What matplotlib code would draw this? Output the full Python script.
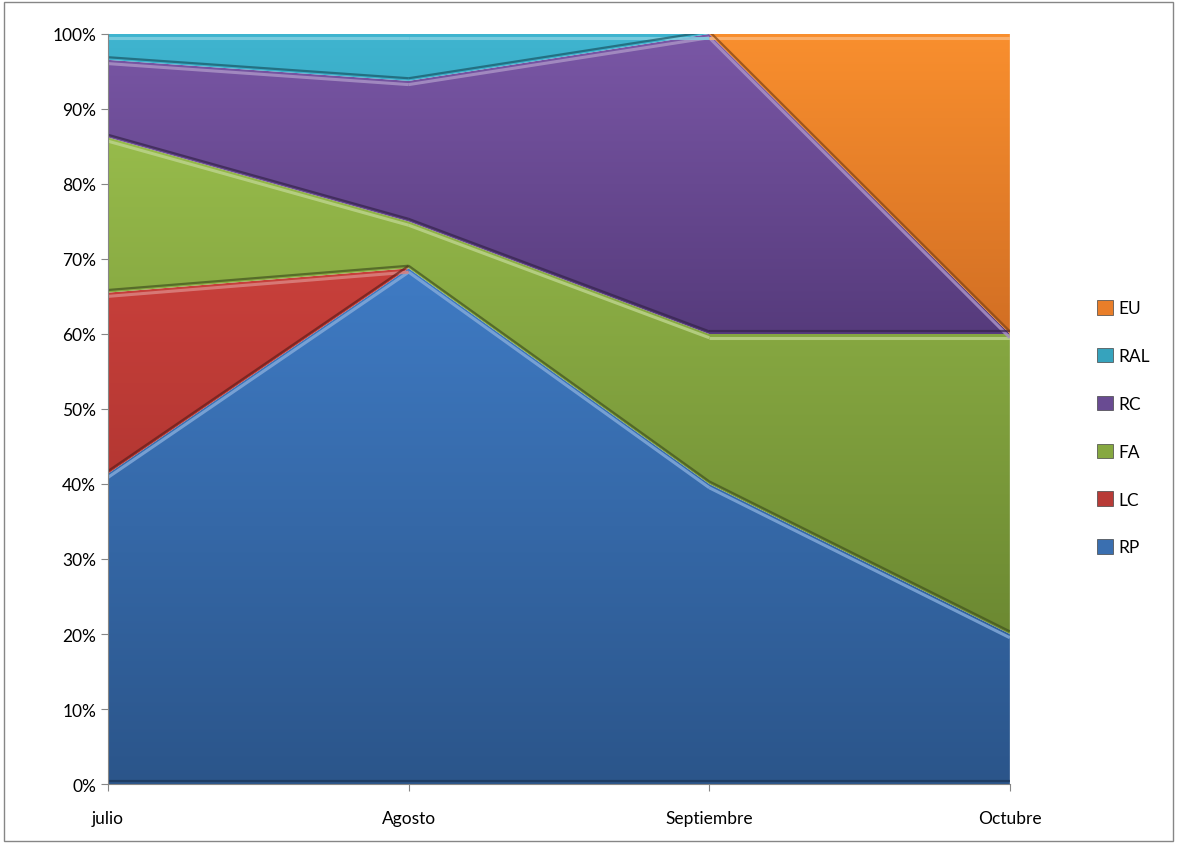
import numpy as np
import matplotlib
matplotlib.use("Agg")
import matplotlib.pyplot as plt
from matplotlib.colors import LinearSegmentedColormap, to_rgb
from matplotlib.ticker import PercentFormatter

categories = ["julio", "Agosto", "Septiembre", "Octubre"]
series_names = ["RP", "LC", "FA", "RC", "RAL", "EU"]
RP = [12, 11, 2, 1]
LC = [7, 0, 0, 0]
FA = [6, 1, 1, 2]
RC = [3, 3, 2, 0]
RAL = [1, 1, 0, 0]
EU = [0, 0, 0, 2]
top_colors = ["#3f7bc4", "#c8403b", "#97bb4b", "#7a57a6", "#3fb5d0", "#f98f2e"]
bottom_colors = ["#2b558a", "#a5302c", "#6c8932", "#563b7c", "#2a8da6", "#d26f24"]
legend_colors = ["#3a6fb0", "#b83b37", "#86a840", "#694b92", "#36a3bd", "#e97e29"]

plt.rcParams['font.family'] = ['Lato', 'DejaVu Sans']

data = np.array([RP, LC, FA, RC, RAL, EU], dtype=float)
totals = data.sum(axis=0)
pct = data / totals * 100
cum = np.vstack([np.zeros(len(categories)), np.cumsum(pct, axis=0)])

fig = plt.figure(figsize=(11.77, 8.45), dpi=100)
ax = fig.add_axes([0.0918, 0.071, 0.858 - 0.0918, 0.9586 - 0.071])
x = np.arange(len(categories))

def lighten(c, f):
    r = np.array(to_rgb(c))
    return tuple(r + (1 - r) * f)

def darken(c, f):
    return tuple(np.array(to_rgb(c)) * f)

for i, name in enumerate(series_names):
    lo, hi = cum[i], cum[i + 1]
    th = hi - lo
    if np.allclose(th, 0):
        continue
    poly = ax.fill_between(x, lo, hi, facecolor="none", edgecolor="none", zorder=1)
    cmap = LinearSegmentedColormap.from_list("g", [bottom_colors[i], top_colors[i]])
    ymin, ymax = lo.min(), hi.max()
    grad = np.linspace(0, 1, 256).reshape(-1, 1)
    im = ax.imshow(grad, cmap=cmap, aspect="auto", origin="lower",
                   extent=[x[0], x[-1], ymin, ymax], zorder=1)
    im.set_clip_path(poly.get_paths()[0], transform=ax.transData)
    # bevel edges on segments that have thickness
    for k in range(len(x) - 1):
        if th[k] < 1e-9 and th[k + 1] < 1e-9:
            continue
        xs = x[k:k + 2]
        ax.plot(xs, hi[k:k + 2] - 0.5, color=lighten(top_colors[i], 0.35), lw=2.2,
                alpha=0.85, zorder=2, solid_capstyle="butt")
        ax.plot(xs, lo[k:k + 2] + 0.35, color=darken(bottom_colors[i], 0.6), lw=1.6,
                alpha=0.7, zorder=2, solid_capstyle="butt")
    ax.fill_between([], [], [], facecolor=legend_colors[i], label=name)

ax.set_xlim(0, len(categories) - 1)
ax.set_ylim(0, 100)
ax.set_xticks(x)
ax.set_xticklabels(categories)
ax.set_yticks(np.arange(0, 101, 10))
ax.yaxis.set_major_formatter(PercentFormatter(decimals=0))
for s in ["top", "right"]:
    ax.spines[s].set_visible(False)
for s in ["left", "bottom"]:
    ax.spines[s].set_color("#868686")
    ax.spines[s].set_zorder(5)
ax.tick_params(axis="both", colors="#868686", labelcolor="black", labelsize=12.5, length=5, direction="out")
ax.tick_params(axis="x", pad=14)

handles, labels = ax.get_legend_handles_labels()
leg = fig.legend(handles[::-1], labels[::-1], loc="center left", bbox_to_anchor=(0.919, 0.4926),
                 frameon=False, fontsize=12.5, handlelength=0.9, handleheight=0.9,
                 handletextpad=0.3, labelspacing=1.82)
for h in leg.legend_handles:
    h.set_edgecolor("#444444")
    h.set_linewidth(0.5)

fig.patches.append(plt.Rectangle((0.003, 0.003), 0.994, 0.994, transform=fig.transFigure,
                                 fill=False, edgecolor="#868686", lw=1))
fig.savefig("out.png", dpi=100)
